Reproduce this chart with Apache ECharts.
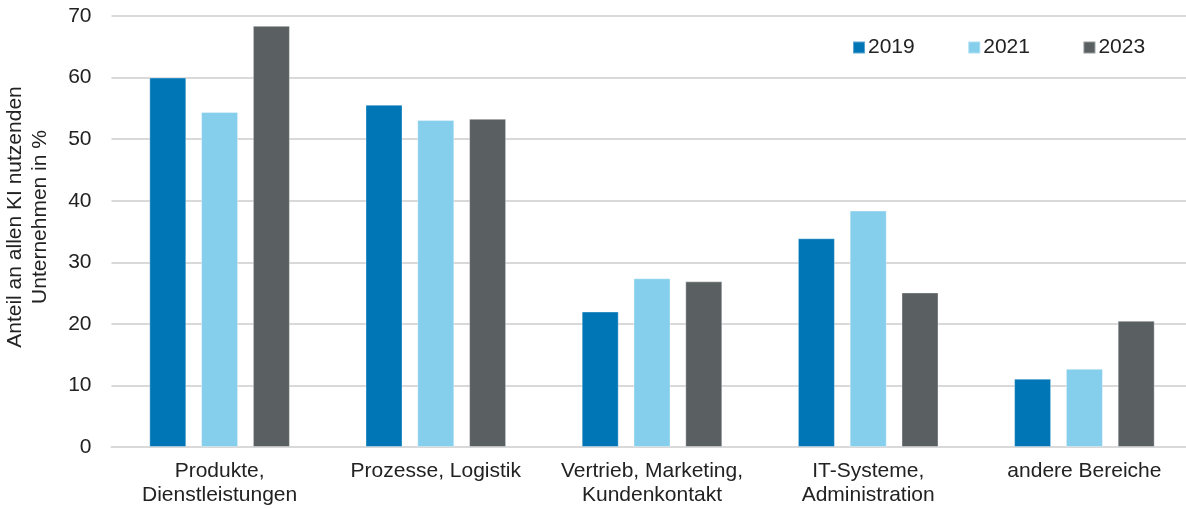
<!DOCTYPE html>
<html><head><meta charset="utf-8">
<script src="https://cdn.jsdelivr.net/npm/echarts@6/dist/echarts.min.js"></script>
<style>html,body{margin:0;padding:0;background:#fff;overflow:hidden}#c{width:1200px;height:509px}</style>
</head><body><div id="c"></div>
<script>
const categories = ['Produkte,\nDienstleistungen', 'Prozesse, Logistik', 'Vertrieb, Marketing,\nKundenkontakt', 'IT-Systeme,\nAdministration', 'andere Bereiche'];
const seriesNames = ['2019', '2021', '2023'];
const values2019 = [60.0, 55.6, 22.0, 33.9, 11.1];
const values2021 = [54.4, 53.1, 27.4, 38.4, 12.7];
const values2023 = [68.4, 53.3, 26.9, 25.1, 20.5];
const colors = ['#0076B6', '#85CEEC', '#5A6062'];
const yTitle = 'Anteil an allen KI nutzenden\nUnternehmen in %';

const font = 'Liberation Sans, Arial, sans-serif';
const chart = echarts.init(document.getElementById('c'), null, {renderer: 'canvas'});
const data = [values2019, values2021, values2023];
chart.setOption({
  animation: false,
  textStyle: {fontFamily: font},
  grid: {left: 111.5, top: 16, width: 1081, height: 431, containLabel: false},
  legend: {
    top: 37, left: 852, padding: 0, itemWidth: 12, itemHeight: 12, itemGap: 52.5,
    icon: 'rect',
    textStyle: {fontSize: 21, color: '#222', fontFamily: font, padding: [0,0,0,-2]},
    data: seriesNames
  },
  graphic: [{
    type: 'text', x: 28, y: 217, rotation: Math.PI / 2,
    style: {text: yTitle, fill: '#222', font: '21px ' + font, textAlign: 'center', textVerticalAlign: 'middle', lineHeight: 25}
  }],
  xAxis: {
    type: 'category', data: categories,
    axisLine: {show: true, lineStyle: {color: '#d9d9d9', width: 2}},
    axisTick: {show: false},
    axisLabel: {fontSize: 21, color: '#222', lineHeight: 24, margin: 12, interval: 0}
  },
  yAxis: {
    type: 'value', min: 0, max: 70, interval: 10,
    axisLine: {show: false}, axisTick: {show: false},
    axisLabel: {fontSize: 21, color: '#222', margin: 20},
    splitLine: {lineStyle: {color: '#d9d9d9', width: 2}}
  },
  series: seriesNames.map((n, i) => ({
    name: n, type: 'bar', data: data[i], barWidth: 37, barGap: '40%',
    itemStyle: {color: colors[i], borderColor: 'rgba(255,255,255,0.35)', borderWidth: 1}
  }))
});
</script></body></html>
